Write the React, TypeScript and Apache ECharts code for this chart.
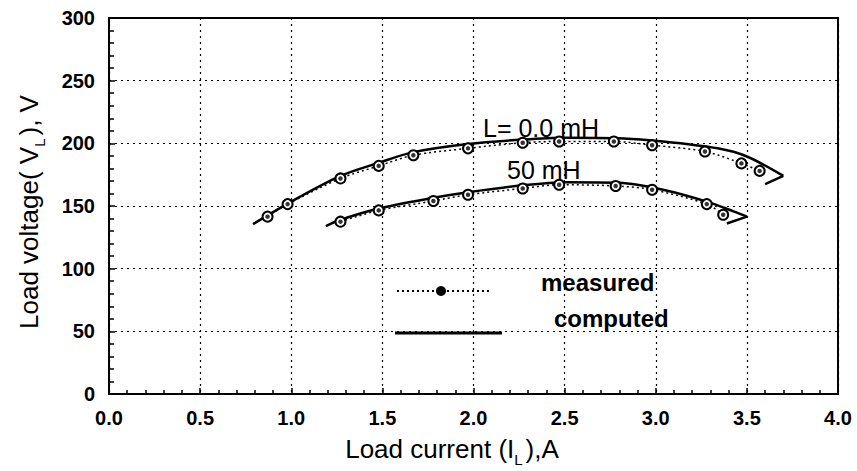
import React, { useEffect, useRef } from "react";
import * as echarts from "echarts";

// X axis ticks (A) and Y axis ticks (V)
const xTicks = [0, 0.5, 1, 1.5, 2, 2.5, 3, 3.5, 4];
const yTicks = [0, 50, 100, 150, 200, 250, 300];

// L = 0.0 mH
const upperMeasI = [0.87, 0.98, 1.27, 1.48, 1.67, 1.97, 2.27, 2.47, 2.77, 2.98, 3.27, 3.47, 3.57];
const upperMeasV = [141.5, 151.5, 172, 182, 190.5, 196, 200.5, 201.5, 201.5, 198.5, 193.5, 184, 178];
const upperCompI = [0.79, 1.0, 1.27, 1.48, 1.67, 1.97, 2.27, 2.5, 2.8, 3.04, 3.34, 3.5, 3.7];
const upperCompV = [135.5, 153.5, 174, 184.5, 193, 199.5, 203, 204.5, 204, 201.5, 196, 189.5, 174];
const upperHookI = [3.7, 3.6];
const upperHookV = [174, 167.5];

// L = 50 mH
const lowerMeasI = [1.27, 1.48, 1.78, 1.97, 2.27, 2.47, 2.78, 2.98, 3.28, 3.37];
const lowerMeasV = [137.5, 146.5, 154, 159, 164, 167, 166, 163, 151.5, 143];
const lowerCompI = [1.19, 1.27, 1.48, 1.78, 1.97, 2.27, 2.5, 2.8, 3.04, 3.28, 3.43, 3.5];
const lowerCompV = [134, 139, 148, 156.5, 161, 166.5, 169, 168.5, 163, 153.5, 145.5, 141.5];
const lowerHookI = [3.5, 3.39];
const lowerHookV = [141.5, 136];

const FONT = "'Liberation Sans', Arial, sans-serif";

const zip = (a: number[], b: number[]) => a.map((v, i) => [v, b[i]]);

export default function App() {
  const ref = useRef<HTMLDivElement>(null);
  useEffect(() => {
    if (!ref.current) return;
    const chart = echarts.init(ref.current, null, { renderer: "svg" });
    const solid = (name: string, data: number[][], smooth: number | boolean) => ({
      name,
      type: "line",
      data,
      smooth,
      symbol: "none",
      lineStyle: { color: "#000", width: 2.5 },
      z: 3,
    });
    const measured = (name: string, data: number[][]) => [
      {
        name,
        type: "line",
        data,
        smooth: 0.3,
        symbol: "emptyCircle",
        symbolSize: 10,
        lineStyle: { color: "#000", width: 1.5, type: [2, 3] },
        itemStyle: { color: "#000", borderColor: "#000", borderWidth: 2 },
        z: 4,
      },
      {
        name: name + " dot",
        type: "scatter",
        data,
        symbol: "circle",
        symbolSize: 4.5,
        itemStyle: { color: "#000" },
        z: 5,
      },
    ];
    chart.setOption({
      animation: false,
      backgroundColor: "#fff",
      grid: {
        left: 109,
        right: 19,
        top: 18,
        bottom: 77,
        show: true,
        borderColor: "#000",
        borderWidth: 2,
        backgroundColor: "transparent",
      },
      xAxis: {
        type: "value",
        min: xTicks[0],
        max: xTicks[xTicks.length - 1],
        interval: 0.5,
        axisLine: { show: true, onZero: false, lineStyle: { color: "#000", width: 2 } },
        axisTick: { show: true, inside: true, length: 6, lineStyle: { color: "#000", width: 1.5 } },
        minorTick: { show: true, splitNumber: 5, length: 4, lineStyle: { color: "#000", width: 1.5 } },
        axisLabel: {
          color: "#000",
          fontFamily: FONT,
          fontWeight: "bold",
          fontSize: 20,
          margin: 14,
          formatter: (v: number) => v.toFixed(1),
        },
        splitLine: { show: true, lineStyle: { color: "#000", width: 1.2, type: [2, 4] } },
      },
      yAxis: {
        type: "value",
        min: yTicks[0],
        max: yTicks[yTicks.length - 1],
        interval: 50,
        axisLine: { show: true, onZero: false, lineStyle: { color: "#000", width: 2 } },
        axisTick: { show: true, inside: true, length: 6, lineStyle: { color: "#000", width: 1.5 } },
        minorTick: { show: true, splitNumber: 5, length: 5, lineStyle: { color: "#000", width: 1.5 } },
        axisLabel: {
          color: "#000",
          fontFamily: FONT,
          fontWeight: "bold",
          fontSize: 20,
          margin: 14,
        },
        splitLine: { show: true, lineStyle: { color: "#000", width: 1.2, type: [2, 4] } },
      },
      series: [
        solid("L=0 computed", zip(upperCompI, upperCompV), 0.3),
        solid("L=0 hook", zip(upperHookI, upperHookV), false),
        solid("L=50 computed", zip(lowerCompI, lowerCompV), 0.3),
        solid("L=50 hook", zip(lowerHookI, lowerHookV), false),
        ...measured("L=0 measured", zip(upperMeasI, upperMeasV)),
        ...measured("L=50 measured", zip(lowerMeasI, lowerMeasV)),
      ],
      graphic: [
        {
          type: "text",
          left: 483,
          top: 115,
          style: { text: "L= 0.0 mH", fontFamily: FONT, fontSize: 25, fill: "#000" },
          z: 10,
        },
        {
          type: "text",
          left: 507,
          top: 157,
          style: { text: "50 mH", fontFamily: FONT, fontSize: 25, fill: "#000" },
          z: 10,
        },
        // legend
        {
          type: "line",
          shape: { x1: 397, y1: 291, x2: 492, y2: 291 },
          style: { stroke: "#000", lineWidth: 2, lineDash: [2, 3] },
          z: 10,
        },
        { type: "circle", shape: { cx: 441, cy: 291, r: 5 }, style: { fill: "#000" }, z: 11 },
        {
          type: "line",
          shape: { x1: 395, y1: 333, x2: 502, y2: 333 },
          style: { stroke: "#000", lineWidth: 3 },
          z: 10,
        },
        {
          type: "text",
          left: 541,
          top: 270,
          style: { text: "measured", fontFamily: FONT, fontSize: 24, fontWeight: "bold", fill: "#000" },
          z: 10,
        },
        {
          type: "text",
          left: 554,
          top: 306,
          style: { text: "computed", fontFamily: FONT, fontSize: 24, fontWeight: "bold", fill: "#000" },
          z: 10,
        },
        // axis titles
        {
          type: "text",
          x: 452,
          y: 449,
          style: {
            text: "Load current (I{sub|L}),A",
            fontFamily: FONT,
            fontSize: 26,
            fill: "#000",
            align: "center",
            verticalAlign: "middle",
            rich: { sub: { fontSize: 15, fontFamily: FONT, fill: "#000", padding: [20, 3, 0, 0] } },
          },
          z: 10,
        },
        {
          type: "text",
          x: 29,
          y: 212,
          rotation: Math.PI / 2,
          style: {
            text: "Load voltage( V{sub|L}), V",
            fontFamily: FONT,
            fontSize: 26,
            fill: "#000",
            align: "center",
            verticalAlign: "middle",
            rich: { sub: { fontSize: 15, fontFamily: FONT, fill: "#000", padding: [20, 3, 0, 0] } },
          },
          z: 10,
        },
      ],
    });
    return () => chart.dispose();
  }, []);
  return (
    <div
      ref={ref}
      style={{ position: "fixed", left: 0, top: 0, width: 857, height: 471, background: "#fff" }}
    />
  );
}
